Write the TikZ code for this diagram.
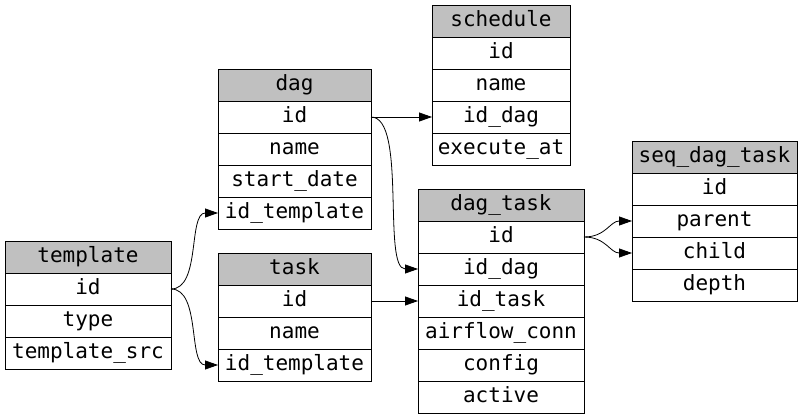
\documentclass[tikz,border=0pt]{standalone}
\usepackage{fontspec}
\setmonofont{DejaVu Sans Mono}
\usetikzlibrary{arrows.meta,positioning}
\definecolor{hdrgray}{HTML}{C0C0C0}
\tikzset{
 cell/.style={draw=black, line width=0.9pt, rectangle, minimum height=32pt, inner sep=0pt, outer sep=0pt,
   font=\ttfamily\fontsize{21}{24}\selectfont, text=black, text height=15pt, text depth=4pt, anchor=north},
 hdr/.style={cell, fill=hdrgray},
 fk/.style={-{Triangle[length=13pt,width=9pt]}, line width=0.8pt, black},
}
\begin{document}
\begin{tikzpicture}[x=1pt,y=-1pt]
\useasboundingbox (0,0) rectangle (803,419);
% template
\begin{scope}[every node/.append style={minimum width=166pt}]
\node[hdr] (template) at (88,241) {template};
\node[cell, below=0pt of template] (template-id) {id};
\node[cell, below=0pt of template-id] (template-type) {type};
\node[cell, below=0pt of template-type] (template-src) {template\_src};
\end{scope}
% dag
\begin{scope}[every node/.append style={minimum width=153pt}]
\node[hdr] (dag) at (294.5,69) {dag};
\node[cell, below=0pt of dag] (dag-id) {id};
\node[cell, below=0pt of dag-id] (dag-name) {name};
\node[cell, below=0pt of dag-name] (dag-start) {start\_date};
\node[cell, below=0pt of dag-start] (dag-idtemplate) {id\_template};
\end{scope}
% task
\begin{scope}[every node/.append style={minimum width=153pt}]
\node[hdr] (task) at (294.5,253) {task};
\node[cell, below=0pt of task] (task-id) {id};
\node[cell, below=0pt of task-id] (task-name) {name};
\node[cell, below=0pt of task-name] (task-idtemplate) {id\_template};
\end{scope}
% schedule
\begin{scope}[every node/.append style={minimum width=138pt}]
\node[hdr] (schedule) at (501,5) {schedule};
\node[cell, below=0pt of schedule] (schedule-id) {id};
\node[cell, below=0pt of schedule-id] (schedule-name) {name};
\node[cell, below=0pt of schedule-name] (schedule-iddag) {id\_dag};
\node[cell, below=0pt of schedule-iddag] (schedule-exec) {execute\_at};
\end{scope}
% dag_task
\begin{scope}[every node/.append style={minimum width=166pt}]
\node[hdr] (dagtask) at (501,189) {dag\_task};
\node[cell, below=0pt of dagtask] (dagtask-id) {id};
\node[cell, below=0pt of dagtask-id] (dagtask-iddag) {id\_dag};
\node[cell, below=0pt of dagtask-iddag] (dagtask-idtask) {id\_task};
\node[cell, below=0pt of dagtask-idtask] (dagtask-conn) {airflow\_conn};
\node[cell, below=0pt of dagtask-conn] (dagtask-config) {config};
\node[cell, below=0pt of dagtask-config] (dagtask-active) {active};
\end{scope}
% seq_dag_task
\begin{scope}[every node/.append style={minimum width=165pt}]
\node[hdr] (seq) at (714.5,141) {seq\_dag\_task};
\node[cell, below=0pt of seq] (seq-id) {id};
\node[cell, below=0pt of seq-id] (seq-parent) {parent};
\node[cell, below=0pt of seq-parent] (seq-child) {child};
\node[cell, below=0pt of seq-child] (seq-depth) {depth};
\end{scope}
% connectors
\draw[fk] (template-id.east) .. controls +(30,0) and +(-30,0) .. (dag-idtemplate.west);
\draw[fk] (template-id.east) .. controls +(30,0) and +(-30,0) .. (task-idtemplate.west);
\draw[fk] (dag-id.east) -- (schedule-iddag.west);
\draw[fk] (dag-id.east) .. controls +(36,0) and +(-36,0) .. (dagtask-iddag.west);
\draw[fk] (task-id.east) -- (dagtask-idtask.west);
\draw[fk] (dagtask-id.east) .. controls +(22,0) and +(-22,0) .. (seq-parent.west);
\draw[fk] (dagtask-id.east) .. controls +(22,0) and +(-22,0) .. (seq-child.west);
\end{tikzpicture}
\end{document}
